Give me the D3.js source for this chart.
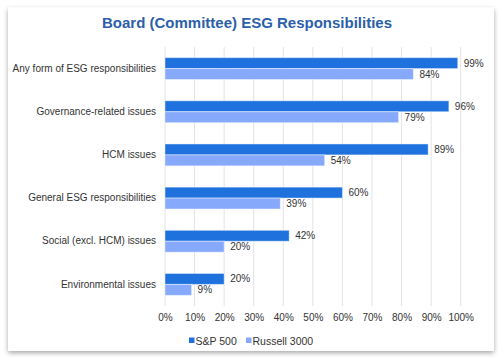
<!DOCTYPE html>
<html><head><meta charset="utf-8">
<script src="https://cdn.jsdelivr.net/npm/d3@7"></script>
<style>
html,body{margin:0;padding:0;background:#fff;}
svg{display:block;font-family:"Liberation Sans",Arial,sans-serif;}
</style></head>
<body><svg id="c" width="501" height="359"></svg>
<script>
const categories = ["Any form of ESG responsibilities","Governance-related issues","HCM issues","General ESG responsibilities","Social (excl. HCM) issues","Environmental issues"];
const seriesNames = ["S&P 500","Russell 3000"];
const sp500 = [99,96,89,60,42,20];
const russell3000 = [84,79,54,39,20,9];
const tickValues = [0,10,20,30,40,50,60,70,80,90,100];
const colors = ["#1f72de","#87a9fc"];
const title = "Board (Committee) ESG Responsibilities";

const svg = d3.select("#c");
const defs = svg.append("defs");
const f = defs.append("filter").attr("id","sh").attr("x","-5%").attr("y","-5%").attr("width","110%").attr("height","112%");
f.append("feGaussianBlur").attr("in","SourceAlpha").attr("stdDeviation",2.5);
f.append("feOffset").attr("dx",0).attr("dy",2).attr("result","b");
f.append("feComponentTransfer").append("feFuncA").attr("type","linear").attr("slope",0.35);
const m = f.append("feMerge"); m.append("feMergeNode"); m.append("feMergeNode").attr("in","SourceGraphic");

svg.append("rect").attr("x",8).attr("y",7.5).attr("width",486).attr("height",343.5).attr("fill","#fff").attr("filter","url(#sh)");

svg.append("text").attr("x",247).attr("y",28).attr("text-anchor","middle")
  .attr("font-size",15).attr("font-weight","bold").attr("fill","#2b5faa").text(title);

const x = d3.scaleLinear().domain([0,100]).range([165,460.7]);
const y = d3.scaleBand().domain(categories).range([47,306]);
const inner = d3.scaleBand().domain(seriesNames).range([0,y.bandwidth()]).paddingInner(0).paddingOuter(0.97);

// gridlines
svg.append("g").selectAll("line").data(tickValues).join("line")
  .attr("x1",d=>x(d)).attr("x2",d=>x(d)).attr("y1",47).attr("y2",306)
  .attr("stroke","#e3e3e3").attr("stroke-width",1);

// x axis
const xa = svg.append("g").attr("transform","translate(0,306)")
  .call(d3.axisBottom(x).tickValues(tickValues).tickFormat(d=>d+"%").tickSize(0).tickPadding(8));
xa.select(".domain").remove();
xa.selectAll("text").attr("font-size",10).attr("fill","#333").attr("font-family","Liberation Sans, Arial, sans-serif");

// y axis
const ya = svg.append("g").attr("transform","translate(165,0)")
  .call(d3.axisLeft(y).tickSize(0).tickPadding(9));
ya.select(".domain").remove();
ya.selectAll("text").attr("font-size",10).attr("fill","#333").attr("font-family","Liberation Sans, Arial, sans-serif");

const data = [sp500, russell3000];
data.forEach((vals,si)=>{
  const g = svg.append("g");
  g.selectAll("rect").data(vals).join("rect")
    .attr("x",x(0)).attr("y",(d,i)=>y(categories[i])+inner(seriesNames[si]))
    .attr("width",d=>x(d)-x(0)).attr("height",inner.bandwidth())
    .attr("fill",colors[si]).attr("stroke","rgba(255,255,255,0.45)").attr("stroke-width",1);
  g.selectAll("text").data(vals).join("text")
    .attr("x",d=>x(d)+6).attr("y",(d,i)=>y(categories[i])+inner(seriesNames[si])+inner.bandwidth()/2+3.5)
    .attr("font-size",10).attr("fill","#333").text(d=>d+"%");
});

// legend
const leg = [{x:189,name:seriesNames[0],c:colors[0]},{x:246,name:seriesNames[1],c:colors[1]}];
const lg = svg.append("g");
leg.forEach(l=>{
  lg.append("rect").attr("x",l.x).attr("y",337.5).attr("width",5.5).attr("height",5.5).attr("fill",l.c);
  lg.append("text").attr("x",l.x+6.5).attr("y",344.5).attr("font-size",10.5).attr("fill","#333").text(l.name);
});
</script></body></html>
